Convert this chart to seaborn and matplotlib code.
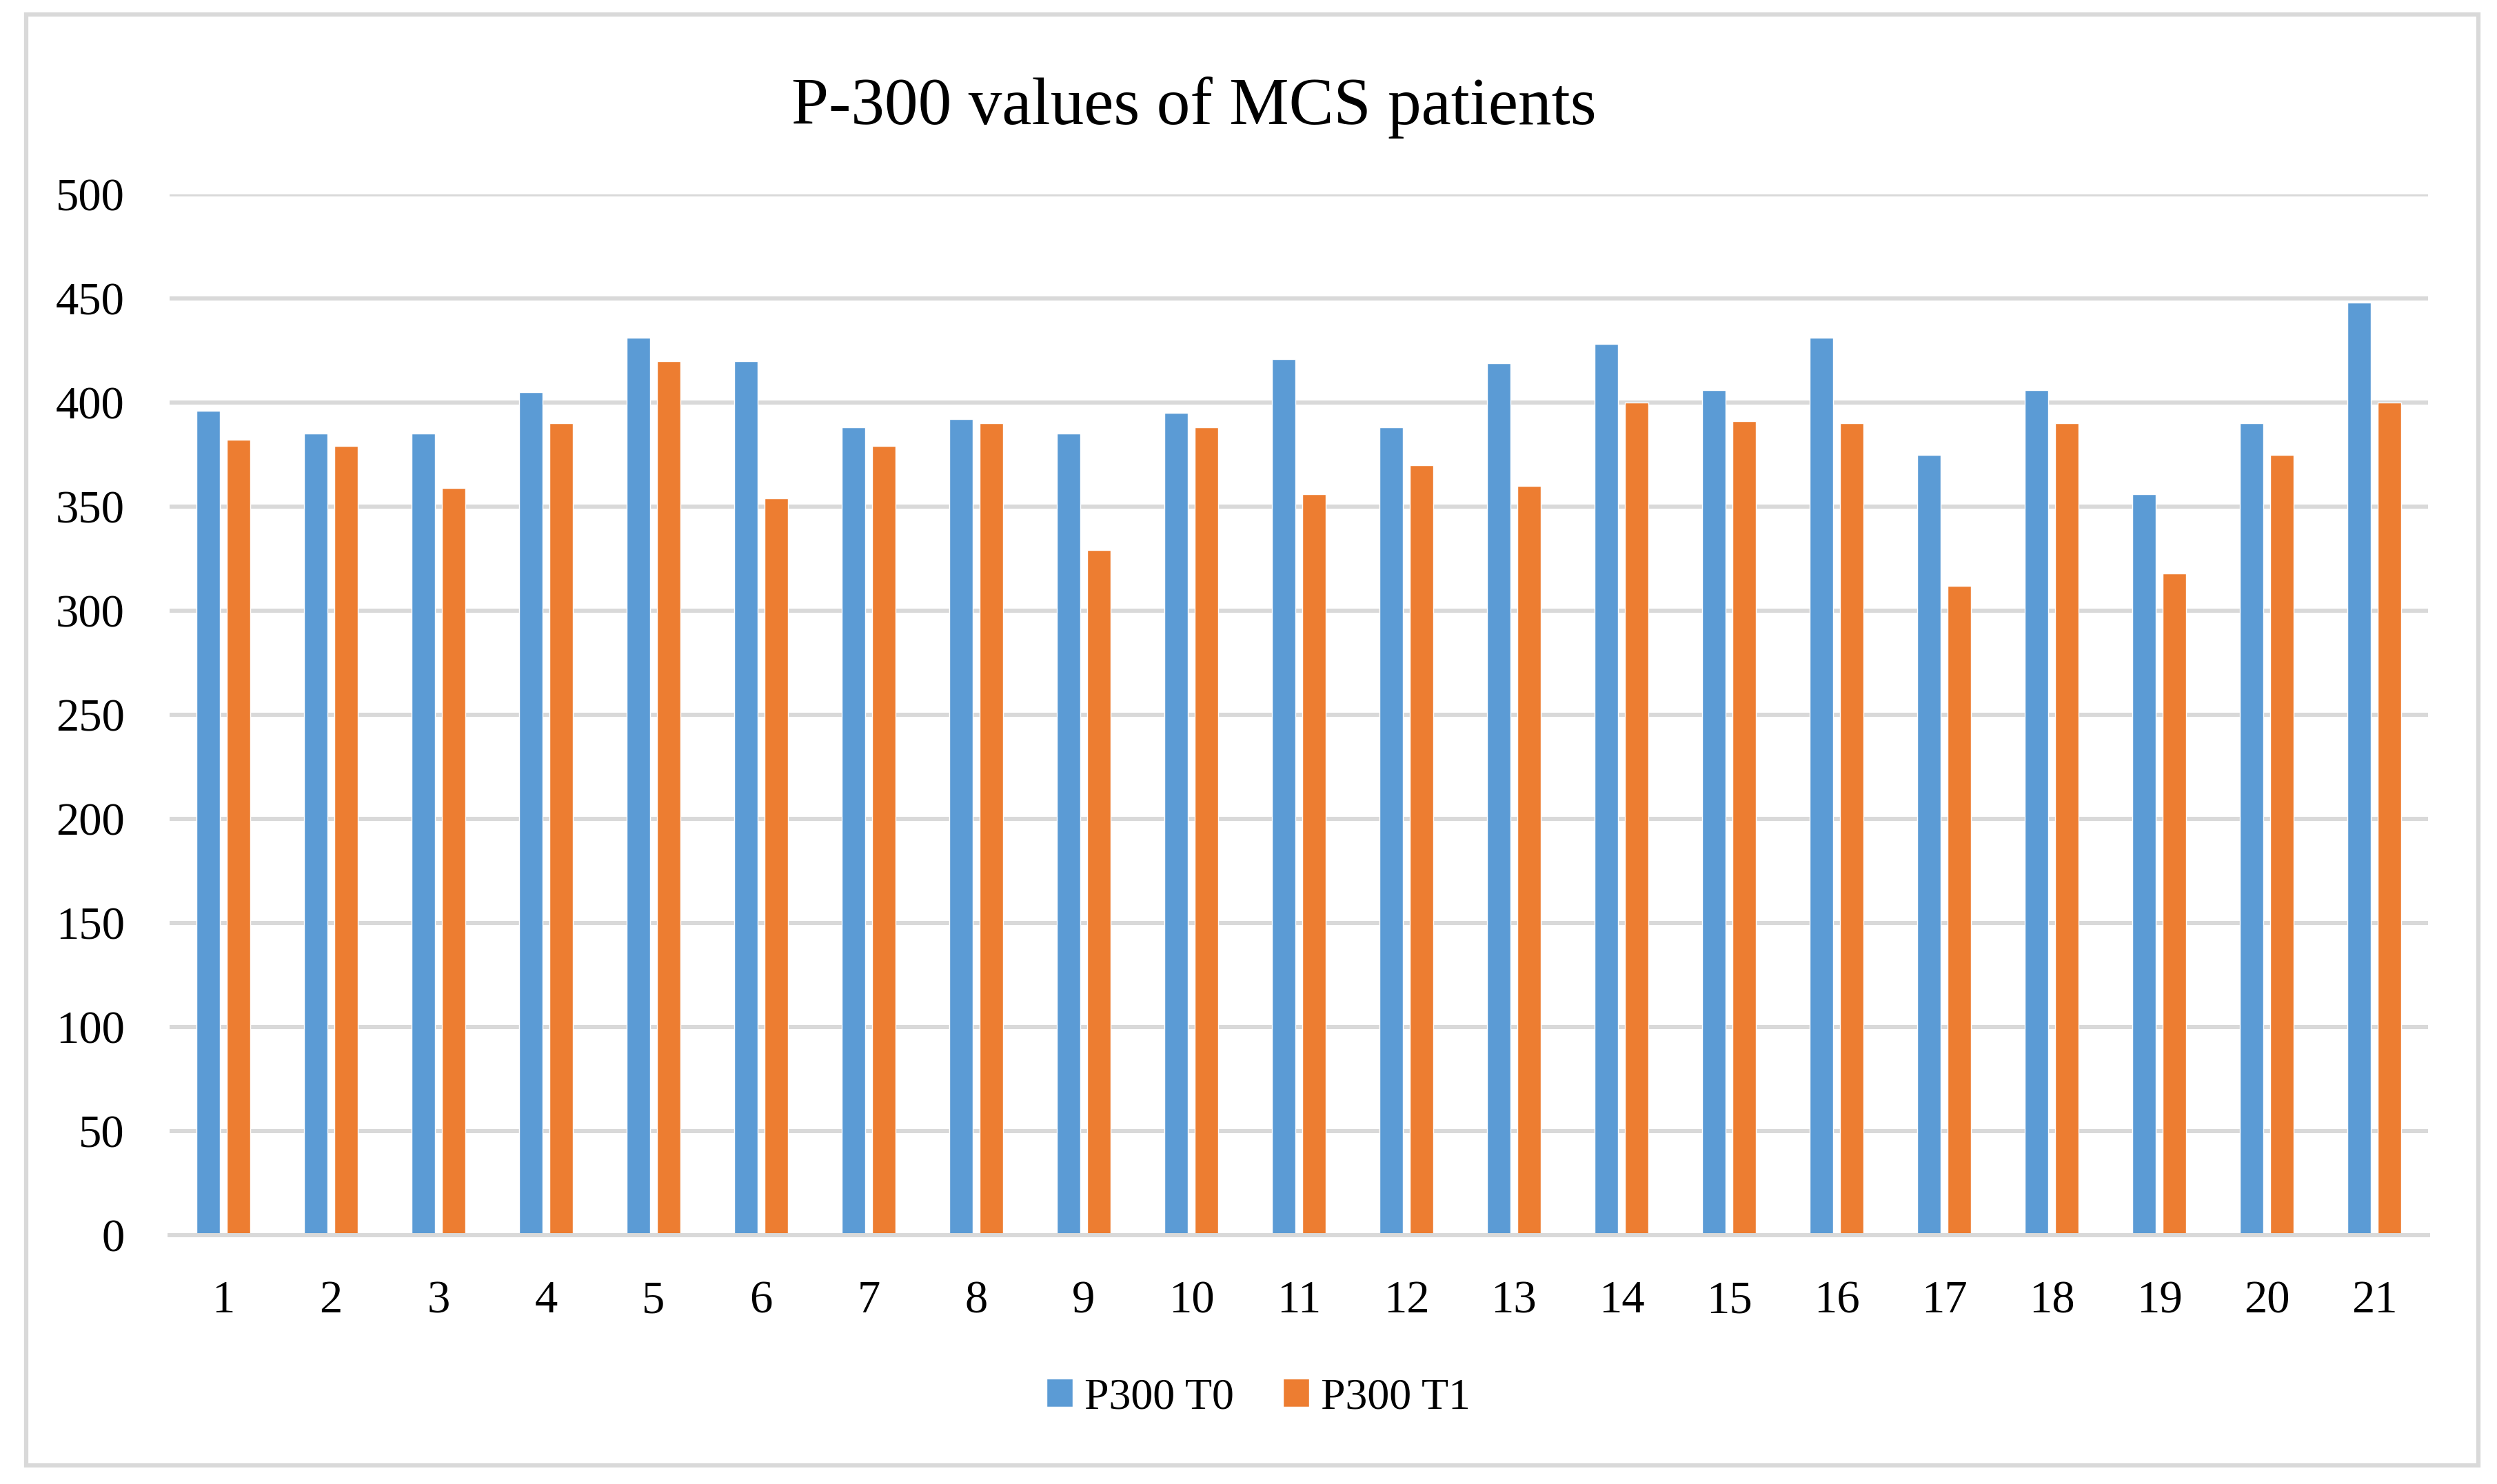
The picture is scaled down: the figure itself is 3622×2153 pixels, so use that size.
import numpy as np
import pandas as pd
import matplotlib
matplotlib.use("Agg")
import matplotlib.pyplot as plt
import matplotlib.patches as mpatches
import seaborn as sns

# values
patients = [str(i) for i in range(1, 22)]
p300_t0 = [396, 385, 385, 405, 431, 420, 388, 392, 385, 395, 421,
           388, 419, 428, 406, 431, 375, 406, 356, 390, 448]
p300_t1 = [382, 379, 359, 390, 420, 354, 379, 390, 329, 388, 356,
           370, 360, 400, 391, 390, 312, 390, 318, 375, 400]
series_names = ["P300 T0", "P300 T1"]
colors = ["#5B9BD5", "#ED7D31"]
y_ticks = list(range(0, 501, 50))

df = pd.DataFrame({
    "patient": patients * 2,
    "series": [series_names[0]] * len(patients) + [series_names[1]] * len(patients),
    "value": p300_t0 + p300_t1,
})

sns.set_style("white")
plt.rcParams["font.family"] = ["Liberation Serif", "DejaVu Serif"]
plt.rcParams["text.color"] = "black"

fig = plt.figure(figsize=(36.22, 21.53), dpi=100)
ax = fig.add_axes([0.0679, 0.1677, 0.9724 - 0.0679, 0.869 - 0.1677])

sns.barplot(data=df, x="patient", y="value", hue="series", order=patients,
            hue_order=series_names, palette=colors, width=0.568, gap=0.225,
            errorbar=None, saturation=1, ax=ax)

ax.set_ylim(0, 500)
ax.set_yticks(y_ticks)
ax.set_xlim(-0.5, 20.5)
ax.set_xlabel("")
ax.set_ylabel("")
ax.grid(axis="y", color="#D9D9D9", linewidth=4.3)
ax.set_axisbelow(True)
for s in ["top", "left", "right"]:
    ax.spines[s].set_visible(False)
ax.spines["bottom"].set_color("#D9D9D9")
ax.spines["bottom"].set_linewidth(4.3)
ax.tick_params(axis="both", length=0, labelsize=48, colors="black")
ax.tick_params(axis="y", pad=47)
ax.tick_params(axis="x", pad=47)

# legend below the plot
handles, labels = ax.get_legend_handles_labels()
ax.get_legend().remove()
fig.legend(handles, labels, loc="center", bbox_to_anchor=(0.504, 0.058),
           ncol=2, frameon=False, fontsize=46, handlelength=0.6,
           handleheight=0.6, handletextpad=0.27, columnspacing=1.1,
           labelcolor="black")

fig.text(0.478, 0.9164, "P-300 values of MCS patients", ha="center",
         va="baseline", fontsize=70, color="black")

# light gray frame around the whole chart
frame = mpatches.Rectangle((38 / 3622, 1 - 2126 / 2153), (3595 - 38) / 3622,
                           (2126 - 21) / 2153, transform=fig.transFigure,
                           fill=False, edgecolor="#D9D9D9", linewidth=4.5)
fig.patches.append(frame)

fig.savefig("out.png", dpi=100, facecolor="white")
